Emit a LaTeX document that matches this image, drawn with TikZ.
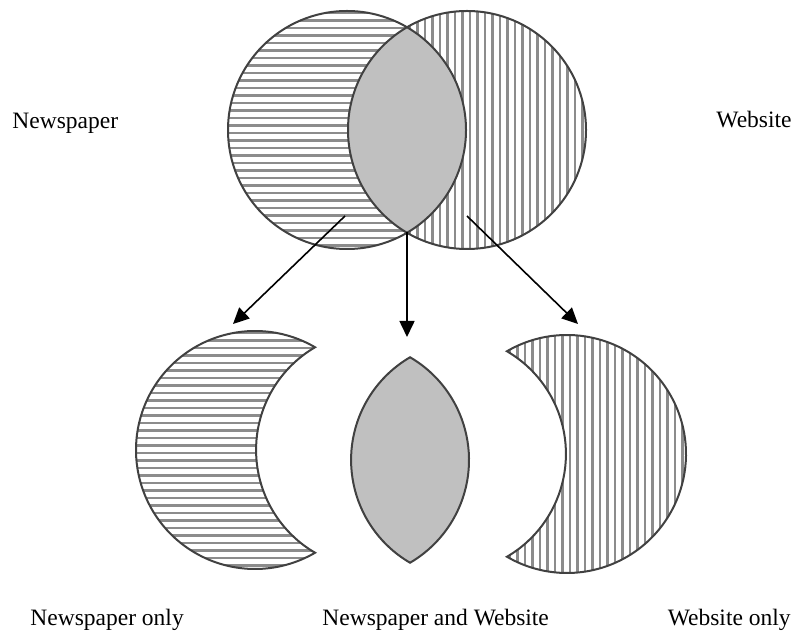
\documentclass[tikz,border=0pt]{standalone}
\usepackage{fontspec}
\setmainfont{Liberation Serif}
\usetikzlibrary{arrows.meta}
\definecolor{hatchc}{RGB}{140,140,140}
\definecolor{lensc}{RGB}{192,192,192}
\definecolor{edgec}{RGB}{65,65,65}
\tikzset{
  lensshape/.style={insert path={(0,0) ++(-59.7:119) arc[start angle=-59.7,end angle=59.7,radius=119] arc[start angle=120.3,end angle=239.7,radius=119] -- cycle}},
  leftmoon/.style={insert path={(0,0) ++(-59.7:119) arc[start angle=-59.7,end angle=-300.3,radius=119] arc[start angle=120.3,end angle=239.7,radius=119] -- cycle}},
  rightmoon/.style={insert path={(120,0) ++(-120.3:119) arc[start angle=-120.3,end angle=120.3,radius=119] arc[start angle=59.7,end angle=-59.7,radius=119] -- cycle}}
}
\begin{document}
\begin{tikzpicture}[x=0.5pt,y=-0.5pt,
  hatch/.style={draw=hatchc,line width=1.4pt},
  edge/.style={draw=edgec,line width=1pt},
  lensfill/.style={fill=lensc},
  arr/.style={draw=black,line width=0.8pt,-{Triangle[length=8pt,width=7.5pt]}},
  lbl/.style={font=\fontsize{11.75}{14}\selectfont,inner sep=0pt}]
\fill[white] (0,0) rectangle (797,635);
\useasboundingbox (0,0) rectangle (797,635);

% ---- top Venn diagram
\begin{scope}[shift={(347,130)}]
  \begin{scope}
    \clip (0,0) circle (119);
    \foreach \y in {-117,-109.5,...,118} \draw[hatch] (-125,\y) -- (125,\y);
  \end{scope}
  \begin{scope}
    \clip (120,0) circle (119);
    \foreach \x in {3,10.5,...,240} \draw[hatch] (\x,-125) -- (\x,125);
  \end{scope}
  \fill[lensfill][lensshape];
  \draw[edge] (0,0) circle (119) (120,0) circle (119);
\end{scope}

% ---- bottom left crescent
\begin{scope}[shift={(255,450)}]
  \begin{scope}
    \clip[leftmoon];
    \foreach \y in {-117,-109.5,...,118} \draw[hatch] (-125,\y) -- (125,\y);
  \end{scope}
  \draw[edge][leftmoon];
\end{scope}

% ---- bottom lens
\begin{scope}[shift={(350,460)}]
  \fill[lensfill][lensshape];
  \draw[edge][lensshape];
\end{scope}

% ---- bottom right crescent
\begin{scope}[shift={(447,454)}]
  \begin{scope}
    \clip[rightmoon];
    \foreach \x in {3,10.5,...,240} \draw[hatch] (\x,-125) -- (\x,125);
  \end{scope}
  \draw[edge][rightmoon];
\end{scope}

% ---- arrows
\coordinate (nsrc) at (345,216);
\coordinate (bsrc) at (407,232);
\coordinate (wsrc) at (467,216);
\coordinate (ntip) at (233,324);
\coordinate (btip) at (407,337);
\coordinate (wtip) at (578,324);
\draw[arr] (nsrc) -- (ntip);
\draw[arr] (bsrc) -- (btip);
\draw[arr] (wsrc) -- (wtip);

% ---- labels
\node[lbl,anchor=base west] (lnews) at (12,129) {Newspaper};
\node[lbl,anchor=base east] (lweb) at (792,128) {Website};
\node[lbl,anchor=base west] (lnewsonly) at (30,625) {Newspaper only};
\node[lbl,anchor=base west] (lboth) at (322,625) {Newspaper and Website};
\node[lbl,anchor=base east] (lwebonly) at (791,625) {Website only};
\end{tikzpicture}
\end{document}
